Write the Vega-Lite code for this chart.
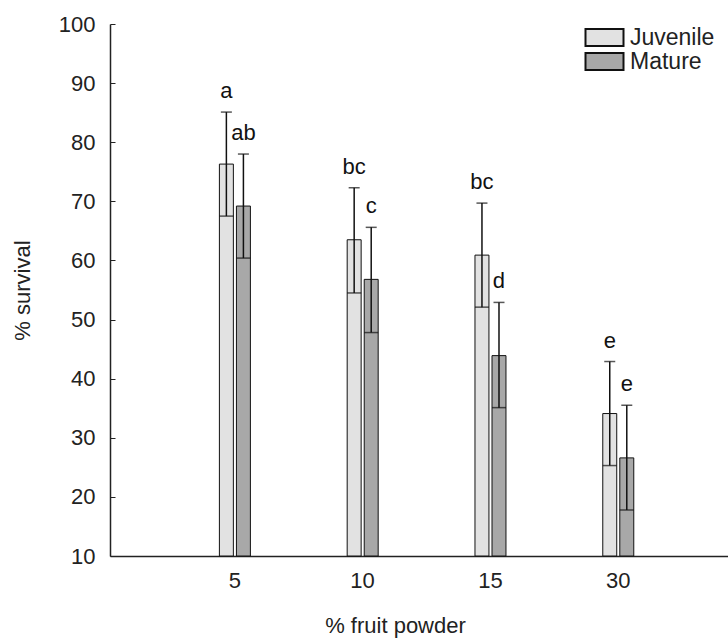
{
  "$schema": "https://vega.github.io/schema/vega-lite/v6.json",
  "autosize": {"type": "none"},
  "width": 618,
  "height": 532,
  "padding": {"left": 110, "top": 24, "right": 0, "bottom": 84},
  "background": "white",
  "config": {
    "font": "Liberation Sans",
    "view": {"stroke": null},
    "axis": {"grid": false, "domainColor": "#222", "domainWidth": 1.5, "tickColor": "#222", "labelColor": "#222", "titleColor": "#222", "labelFont": "Liberation Sans", "titleFont": "Liberation Sans", "labelFontSize": 22, "titleFontSize": 22, "titleFontWeight": "normal"},
    "legend": {"labelFont": "Liberation Sans", "labelFontSize": 23, "labelColor": "#222"}
  },
  "data": {
    "values": [
      {"powder": "5", "group": "Juvenile", "mean": 76.3, "lo": 67.5, "hi": 85.1, "letter": "a"},
      {"powder": "5", "group": "Mature", "mean": 69.2, "lo": 60.4, "hi": 78.0, "letter": "ab"},
      {"powder": "10", "group": "Juvenile", "mean": 63.5, "lo": 54.5, "hi": 72.3, "letter": "bc"},
      {"powder": "10", "group": "Mature", "mean": 56.8, "lo": 47.8, "hi": 65.6, "letter": "c"},
      {"powder": "15", "group": "Juvenile", "mean": 60.9, "lo": 52.1, "hi": 69.7, "letter": "bc"},
      {"powder": "15", "group": "Mature", "mean": 43.9, "lo": 35.1, "hi": 52.9, "letter": "d"},
      {"powder": "30", "group": "Juvenile", "mean": 34.1, "lo": 25.3, "hi": 42.9, "letter": "e"},
      {"powder": "30", "group": "Mature", "mean": 26.6, "lo": 17.8, "hi": 35.5, "letter": "e"}
    ]
  },
  "encoding": {
    "x": {
      "field": "powder", "type": "nominal", "sort": ["5", "10", "15", "30"],
      "scale": {"paddingInner": 0, "paddingOuter": 0.418, "align": 0.57},
      "axis": {"title": "% fruit powder", "labelAngle": 0, "ticks": false, "labelPadding": 14, "titlePadding": 24, "titleX": 285, "titleAnchor": "start", "titleAlign": "center"}
    },
    "xOffset": {"field": "group", "type": "nominal", "scale": {"domain": ["Juvenile", "Mature"], "range": [48.5, 79.5], "paddingInner": 0.18, "paddingOuter": 0}}
  },
  "layer": [
    {
      "mark": {"type": "bar", "stroke": "#111", "strokeWidth": 1},
      "encoding": {
        "y": {"field": "mean", "type": "quantitative", "scale": {"domain": [10, 100], "nice": false, "zero": false},
          "axis": {"title": "% survival", "values": [10, 20, 30, 40, 50, 60, 70, 80, 90, 100], "tickSize": -5, "labelPadding": 20, "titlePadding": 24}},
        "y2": {"datum": 10},
        "fill": {"field": "group", "type": "nominal",
          "scale": {"domain": ["Juvenile", "Mature"], "range": ["#e2e2e2", "#a8a8a8"]},
          "legend": {"title": null, "orient": "none", "legendX": 483, "legendY": 2, "symbolType": "M-3.8,-1.7H3.8V1.7H-3.8Z", "symbolSize": 100, "symbolStrokeColor": "#111", "symbolStrokeWidth": 2, "rowPadding": -20, "labelOffset": 14, "labelLimit": 200}}
      }
    },
    {
      "mark": {"type": "rule", "color": "#111", "strokeWidth": 1.5},
      "encoding": {
        "y": {"field": "lo", "type": "quantitative"},
        "y2": {"field": "hi"}
      }
    },
    {
      "mark": {"type": "tick", "color": "#111", "thickness": 1.5, "size": 11},
      "encoding": {"y": {"field": "hi", "type": "quantitative"}}
    },
    {
      "mark": {"type": "tick", "color": "#111", "thickness": 1.5, "size": 14},
      "encoding": {"y": {"field": "lo", "type": "quantitative"}}
    },
    {
      "mark": {"type": "text", "fontSize": 22, "dy": -21, "color": "#111"},
      "encoding": {
        "y": {"field": "hi", "type": "quantitative"},
        "text": {"field": "letter"}
      }
    }
  ]
}
